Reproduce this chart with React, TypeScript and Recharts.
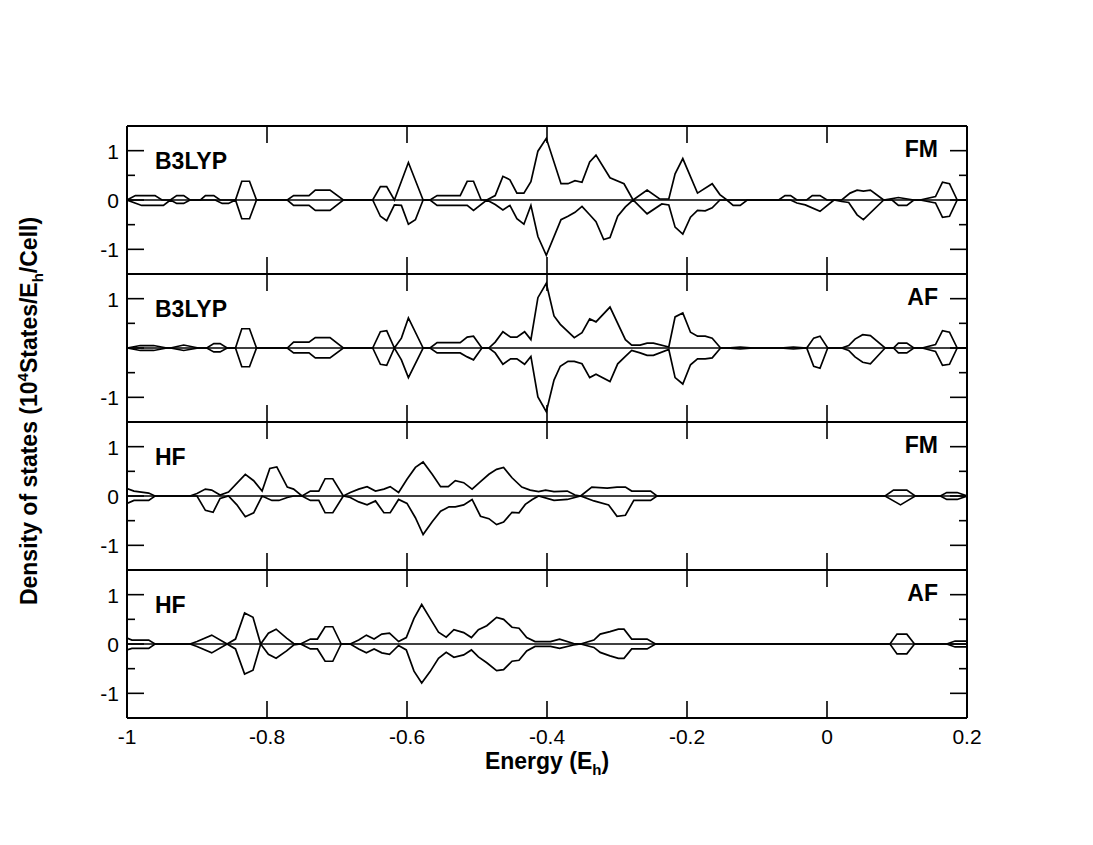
import React from "react";
import { LineChart, Line, XAxis, YAxis, ReferenceLine } from "recharts";

type Pt = [number, number];

// ---------- axes / labels ----------
const ENERGY_TICKS = [-1, -0.8, -0.6, -0.4, -0.2, 0, 0.2];
const ENERGY_TICK_LABELS = ["-1", "-0.8", "-0.6", "-0.4", "-0.2", "0", "0.2"];
const DOS_TICKS = [-1, -0.5, 0, 0.5, 1];
const DOS_MAJOR = [-1, 0, 1];
const PANEL_LABELED_TICKS = [
  [-1, 0, 1],
  [-1, 1],
  [-1, 0, 1],
  [-1, 0, 1],
];
const METHODS = ["B3LYP", "B3LYP", "HF", "HF"];
const ORDERS = ["FM", "AF", "FM", "AF"];

// ---------- data: [energy (Eh), DOS (10^4 states/Eh/cell)] ----------
const b3lypFmUp: Pt[] = [
  [-1.0, 0], [-0.988, 0.09], [-0.96, 0.09], [-0.95, 0], [-0.938, 0], [-0.929, 0.09], [-0.919, 0.09], [-0.91, 0],
  [-0.895, 0], [-0.888, 0.09], [-0.876, 0.09], [-0.867, 0], [-0.845, 0], [-0.836, 0.38], [-0.825, 0.38], [-0.815, 0],
  [-0.771, 0], [-0.762, 0.09], [-0.74, 0.09], [-0.731, 0.2], [-0.71, 0.2], [-0.691, 0], [-0.649, 0], [-0.638, 0.27],
  [-0.629, 0.27], [-0.618, 0], [-0.598, 0.76], [-0.577, 0], [-0.567, 0], [-0.557, 0.09], [-0.524, 0.09], [-0.514, 0.38],
  [-0.505, 0.38], [-0.494, 0], [-0.486, 0], [-0.474, 0.09], [-0.463, 0.48], [-0.453, 0.41], [-0.443, 0.14], [-0.433, 0.14],
  [-0.423, 0.37], [-0.413, 0.99], [-0.401, 1.25], [-0.38, 0.33], [-0.37, 0.33], [-0.36, 0.39], [-0.35, 0.36], [-0.339, 0.77],
  [-0.33, 0.91], [-0.31, 0.45], [-0.29, 0.33], [-0.277, 0], [-0.257, 0.2], [-0.239, 0.02], [-0.226, 0.02], [-0.217, 0.53],
  [-0.206, 0.84], [-0.185, 0.14], [-0.164, 0.33], [-0.153, 0.11], [-0.143, 0], [-0.069, 0], [-0.06, 0.09], [-0.052, 0.09],
  [-0.043, 0], [-0.029, 0], [-0.021, 0.09], [-0.01, 0.09], [0.0, 0], [0.021, 0], [0.033, 0.14], [0.043, 0.2],
  [0.052, 0.18], [0.062, 0.2], [0.081, 0], [0.102, 0.05], [0.124, 0], [0.133, 0], [0.155, 0.07], [0.165, 0.36],
  [0.175, 0.33], [0.186, 0], [0.2, 0],
];
const b3lypFmDown: Pt[] = [
  [-1.0, 0], [-0.979, -0.11], [-0.948, -0.11], [-0.938, 0], [-0.929, -0.07], [-0.919, -0.07], [-0.91, 0], [-0.874, 0],
  [-0.864, -0.07], [-0.855, -0.07], [-0.845, 0], [-0.836, -0.38], [-0.825, -0.38], [-0.815, 0], [-0.771, 0], [-0.762, -0.11],
  [-0.74, -0.11], [-0.731, -0.21], [-0.71, -0.21], [-0.691, 0], [-0.649, 0], [-0.638, -0.33], [-0.629, -0.42], [-0.618, -0.1],
  [-0.608, -0.11], [-0.598, -0.49], [-0.588, -0.4], [-0.577, 0], [-0.567, 0], [-0.557, -0.11], [-0.514, -0.11], [-0.505, -0.21],
  [-0.486, 0], [-0.474, -0.09], [-0.463, -0.2], [-0.453, -0.11], [-0.443, -0.38], [-0.433, -0.49], [-0.423, -0.11], [-0.413, -0.74],
  [-0.401, -1.12], [-0.38, -0.4], [-0.37, -0.33], [-0.36, -0.25], [-0.35, -0.13], [-0.339, -0.3], [-0.33, -0.44], [-0.319, -0.8],
  [-0.31, -0.76], [-0.299, -0.33], [-0.288, -0.14], [-0.277, 0], [-0.257, -0.28], [-0.236, -0.08], [-0.226, -0.1], [-0.217, -0.55],
  [-0.206, -0.69], [-0.195, -0.35], [-0.185, -0.21], [-0.174, -0.22], [-0.164, -0.16], [-0.153, 0], [-0.143, 0], [-0.134, -0.11],
  [-0.124, -0.11], [-0.114, 0], [-0.052, 0], [-0.043, -0.06], [-0.031, -0.1], [-0.01, -0.23], [0.01, 0], [0.021, -0.03],
  [0.031, -0.05], [0.043, -0.3], [0.052, -0.4], [0.081, 0], [0.093, 0], [0.102, -0.11], [0.114, -0.11], [0.124, 0],
  [0.133, 0], [0.155, -0.06], [0.165, -0.35], [0.175, -0.33], [0.186, 0], [0.2, 0],
];
const b3lypAfUp: Pt[] = [
  [-1.0, 0], [-0.981, 0.05], [-0.962, 0.05], [-0.943, 0], [-0.938, 0], [-0.919, 0.06], [-0.898, 0], [-0.886, 0],
  [-0.876, 0.09], [-0.867, 0.09], [-0.857, 0], [-0.845, 0], [-0.836, 0.39], [-0.825, 0.39], [-0.815, 0], [-0.771, 0],
  [-0.762, 0.12], [-0.74, 0.12], [-0.731, 0.21], [-0.71, 0.21], [-0.691, 0], [-0.649, 0], [-0.638, 0.33], [-0.629, 0.35],
  [-0.618, 0], [-0.608, 0.2], [-0.598, 0.61], [-0.577, 0], [-0.567, 0], [-0.557, 0.11], [-0.524, 0.11], [-0.514, 0.22],
  [-0.505, 0.24], [-0.493, 0], [-0.483, 0], [-0.474, 0.12], [-0.463, 0.33], [-0.452, 0.22], [-0.443, 0.22], [-0.432, 0.33],
  [-0.423, 0.17], [-0.413, 1.02], [-0.401, 1.31], [-0.39, 0.65], [-0.381, 0.48], [-0.361, 0.21], [-0.35, 0.31], [-0.339, 0.59],
  [-0.33, 0.53], [-0.31, 0.83], [-0.288, 0.17], [-0.279, 0.06], [-0.267, 0.06], [-0.257, 0.1], [-0.248, 0.1], [-0.226, 0.02],
  [-0.217, 0.63], [-0.206, 0.71], [-0.195, 0.32], [-0.185, 0.24], [-0.174, 0.24], [-0.164, 0.2], [-0.152, 0], [-0.143, 0],
  [-0.124, 0.02], [-0.105, 0], [-0.067, 0], [-0.048, 0.02], [-0.029, 0], [-0.019, 0.2], [-0.01, 0.24], [0.001, 0],
  [0.021, 0], [0.031, 0.05], [0.04, 0.18], [0.051, 0.27], [0.062, 0.25], [0.083, 0], [0.095, 0], [0.102, 0.1],
  [0.114, 0.1], [0.124, 0], [0.136, 0], [0.155, 0.07], [0.165, 0.35], [0.175, 0.32], [0.186, 0], [0.2, 0],
];
const b3lypAfDown: Pt[] = [
  [-1.0, 0], [-0.981, -0.05], [-0.962, -0.05], [-0.943, 0], [-0.938, 0], [-0.919, -0.05], [-0.898, 0], [-0.886, 0],
  [-0.876, -0.08], [-0.867, -0.08], [-0.857, 0], [-0.845, 0], [-0.836, -0.38], [-0.825, -0.38], [-0.815, 0], [-0.771, 0],
  [-0.762, -0.1], [-0.74, -0.1], [-0.731, -0.2], [-0.71, -0.2], [-0.691, 0], [-0.649, 0], [-0.638, -0.33], [-0.629, -0.35],
  [-0.618, 0], [-0.608, -0.24], [-0.598, -0.6], [-0.577, 0], [-0.567, 0], [-0.557, -0.1], [-0.524, -0.1], [-0.514, -0.18],
  [-0.505, -0.24], [-0.493, 0], [-0.483, 0], [-0.474, -0.1], [-0.463, -0.33], [-0.452, -0.22], [-0.443, -0.22], [-0.432, -0.33],
  [-0.423, -0.17], [-0.413, -0.99], [-0.401, -1.29], [-0.39, -0.65], [-0.381, -0.37], [-0.37, -0.27], [-0.361, -0.27], [-0.35, -0.32],
  [-0.339, -0.6], [-0.33, -0.53], [-0.31, -0.68], [-0.299, -0.32], [-0.288, -0.17], [-0.279, -0.05], [-0.267, -0.1], [-0.257, -0.15],
  [-0.248, -0.15], [-0.226, -0.03], [-0.217, -0.6], [-0.206, -0.73], [-0.195, -0.34], [-0.185, -0.22], [-0.174, -0.22], [-0.164, -0.2],
  [-0.152, 0], [-0.143, 0], [-0.124, -0.02], [-0.105, 0], [-0.067, 0], [-0.048, -0.02], [-0.029, 0], [-0.019, -0.37],
  [-0.01, -0.41], [0.001, 0], [0.021, 0], [0.031, -0.05], [0.04, -0.18], [0.051, -0.29], [0.062, -0.32], [0.083, 0],
  [0.095, 0], [0.102, -0.1], [0.114, -0.1], [0.124, 0], [0.136, 0], [0.155, -0.07], [0.165, -0.35], [0.175, -0.33],
  [0.186, 0], [0.2, 0],
];
const hfFmUp: Pt[] = [
  [-1.0, 0.15], [-0.99, 0.1], [-0.969, 0.06], [-0.96, 0], [-0.91, 0], [-0.9, 0.05], [-0.888, 0.14], [-0.879, 0.12],
  [-0.867, 0.02], [-0.855, 0.08], [-0.831, 0.44], [-0.819, 0.31], [-0.807, 0.1], [-0.796, 0.56], [-0.786, 0.59], [-0.771, 0.18],
  [-0.762, 0.14], [-0.75, 0], [-0.738, 0.1], [-0.726, 0.1], [-0.717, 0.35], [-0.706, 0.35], [-0.691, 0], [-0.681, 0.07],
  [-0.669, 0.14], [-0.657, 0.19], [-0.645, 0.1], [-0.633, 0.14], [-0.624, 0.19], [-0.612, 0.07], [-0.6, 0.34], [-0.588, 0.58],
  [-0.577, 0.69], [-0.564, 0.44], [-0.552, 0.19], [-0.541, 0.19], [-0.531, 0.31], [-0.519, 0.27], [-0.507, 0.14], [-0.495, 0.29],
  [-0.483, 0.44], [-0.472, 0.54], [-0.462, 0.58], [-0.45, 0.37], [-0.436, 0.18], [-0.424, 0.12], [-0.412, 0.09], [-0.402, 0.12],
  [-0.39, 0.09], [-0.371, 0.1], [-0.36, 0.02], [-0.352, 0], [-0.336, 0.18], [-0.314, 0.16], [-0.3, 0.18], [-0.288, 0.18],
  [-0.279, 0.1], [-0.252, 0.1], [-0.243, 0], [0.083, 0], [0.095, 0.12], [0.114, 0.12], [0.126, 0], [0.162, 0],
  [0.171, 0.07], [0.186, 0.07], [0.2, 0],
];
const hfFmDown: Pt[] = [
  [-1.0, -0.15], [-0.99, -0.09], [-0.969, -0.09], [-0.96, 0], [-0.9, 0], [-0.888, -0.29], [-0.877, -0.33], [-0.867, -0.05],
  [-0.855, 0], [-0.843, -0.18], [-0.831, -0.42], [-0.819, -0.34], [-0.807, 0], [-0.793, -0.09], [-0.783, -0.09], [-0.771, -0.03],
  [-0.762, 0], [-0.75, 0], [-0.738, -0.09], [-0.726, -0.09], [-0.717, -0.34], [-0.706, -0.34], [-0.691, 0], [-0.681, -0.03],
  [-0.669, -0.12], [-0.657, -0.18], [-0.645, -0.1], [-0.633, -0.34], [-0.624, -0.34], [-0.612, -0.07], [-0.6, -0.15], [-0.588, -0.44],
  [-0.577, -0.78], [-0.564, -0.52], [-0.552, -0.31], [-0.54, -0.22], [-0.531, -0.22], [-0.519, -0.18], [-0.507, -0.07], [-0.495, -0.41],
  [-0.483, -0.46], [-0.472, -0.58], [-0.462, -0.53], [-0.45, -0.33], [-0.44, -0.34], [-0.431, -0.17], [-0.421, -0.07], [-0.412, 0],
  [-0.39, -0.09], [-0.371, -0.07], [-0.352, 0], [-0.333, -0.1], [-0.312, -0.18], [-0.3, -0.41], [-0.288, -0.39], [-0.276, -0.09],
  [-0.252, -0.09], [-0.243, 0], [0.083, 0], [0.105, -0.18], [0.126, 0], [0.162, 0], [0.171, -0.07], [0.186, -0.07],
  [0.2, 0],
];
const hfAfUp: Pt[] = [
  [-1.0, 0.12], [-0.993, 0.08], [-0.969, 0.08], [-0.96, 0], [-0.91, 0], [-0.9, 0.05], [-0.879, 0.18], [-0.857, 0],
  [-0.845, 0.1], [-0.832, 0.63], [-0.82, 0.54], [-0.809, 0], [-0.798, 0.22], [-0.787, 0.3], [-0.772, 0.12], [-0.762, 0.01],
  [-0.752, 0], [-0.738, 0.1], [-0.728, 0.1], [-0.717, 0.35], [-0.706, 0.35], [-0.694, 0], [-0.681, 0], [-0.669, 0.08],
  [-0.658, 0.18], [-0.647, 0.1], [-0.636, 0.2], [-0.625, 0.22], [-0.612, 0.05], [-0.601, 0.13], [-0.59, 0.52], [-0.579, 0.8],
  [-0.567, 0.52], [-0.555, 0.24], [-0.544, 0.14], [-0.533, 0.29], [-0.519, 0.23], [-0.508, 0.13], [-0.498, 0.29], [-0.486, 0.37],
  [-0.472, 0.54], [-0.462, 0.5], [-0.45, 0.34], [-0.44, 0.32], [-0.429, 0.13], [-0.417, 0.05], [-0.395, 0.05], [-0.382, 0.1],
  [-0.362, 0.01], [-0.352, 0], [-0.333, 0.08], [-0.324, 0.2], [-0.31, 0.25], [-0.298, 0.3], [-0.29, 0.3], [-0.279, 0.1],
  [-0.257, 0.1], [-0.245, 0], [0.09, 0], [0.1, 0.2], [0.114, 0.2], [0.125, 0], [0.171, 0], [0.183, 0.06],
  [0.2, 0.06],
];
const hfAfDown: Pt[] = [
  [-1.0, -0.12], [-0.993, -0.09], [-0.969, -0.09], [-0.96, 0], [-0.91, 0], [-0.9, -0.05], [-0.879, -0.18], [-0.857, 0],
  [-0.845, -0.1], [-0.832, -0.61], [-0.82, -0.53], [-0.809, 0], [-0.798, -0.21], [-0.787, -0.29], [-0.772, -0.14], [-0.762, -0.02],
  [-0.752, 0], [-0.738, -0.1], [-0.728, -0.1], [-0.717, -0.35], [-0.706, -0.35], [-0.694, 0], [-0.681, 0], [-0.669, -0.1],
  [-0.658, -0.18], [-0.647, -0.1], [-0.636, -0.18], [-0.625, -0.21], [-0.612, -0.03], [-0.601, -0.12], [-0.59, -0.55], [-0.579, -0.79],
  [-0.567, -0.56], [-0.555, -0.29], [-0.544, -0.17], [-0.533, -0.27], [-0.519, -0.22], [-0.508, -0.12], [-0.498, -0.26], [-0.486, -0.38],
  [-0.472, -0.54], [-0.462, -0.52], [-0.45, -0.35], [-0.44, -0.33], [-0.429, -0.14], [-0.417, -0.05], [-0.395, -0.05], [-0.382, -0.09],
  [-0.362, -0.02], [-0.352, 0], [-0.333, -0.07], [-0.324, -0.17], [-0.31, -0.24], [-0.298, -0.29], [-0.29, -0.29], [-0.279, -0.1],
  [-0.257, -0.1], [-0.245, 0], [0.09, 0], [0.1, -0.2], [0.114, -0.2], [0.125, 0], [0.171, 0], [0.183, -0.06],
  [0.2, -0.06],
];

const PANEL_SERIES: { up: Pt[]; down: Pt[] }[] = [
  { up: b3lypFmUp, down: b3lypFmDown },
  { up: b3lypAfUp, down: b3lypAfDown },
  { up: hfFmUp, down: hfFmDown },
  { up: hfAfUp, down: hfAfDown },
];

// ---------- layout ----------
const FONT = "'Liberation Sans', Arial, Helvetica, sans-serif";
const TICK_FONT = 21;
const PLOT_W = 840;
const PANEL_H = 148;
const LEFT_W = 80;
const RIGHT_W = 20;
const TOP_H = 20;
const BOT_H = 20;
const LAST_BOT_H = 60;
const PLOT_LEFT = 119; // container coords
const PLOT_TOP = 118; // container coords
const MAJOR_LEN = 17;
const MINOR_LEN = 8;

type Row = { e: number; up?: number; down?: number };
function buildRows(up: Pt[], down: Pt[]): Row[] {
  const m = new Map<number, Row>();
  for (const [e, v] of up) {
    const r = m.get(e) ?? { e };
    r.up = v;
    m.set(e, r);
  }
  for (const [e, v] of down) {
    const r = m.get(e) ?? { e };
    r.down = v;
    m.set(e, r);
  }
  return Array.from(m.values()).sort((a, b) => a.e - b.e);
}

function Panel({ index }: { index: number }) {
  const series = PANEL_SERIES[index];
  const data = buildRows(series.up, series.down);
  const last = index === PANEL_SERIES.length - 1;
  const botH = last ? LAST_BOT_H : BOT_H;
  const labeled = PANEL_LABELED_TICKS[index];

  const leftTick = (props: any) => {
    const { x, y, payload } = props;
    const v = payload.value;
    const len = DOS_MAJOR.includes(v) ? MAJOR_LEN : MINOR_LEN;
    return (
      <g>
        <line x1={x} y1={y} x2={x + len} y2={y} stroke="#000" strokeWidth={1.6} />
        {labeled.includes(v) && (
          <text x={x - 8} y={y + 8} textAnchor="end" fontSize={TICK_FONT} fontFamily={FONT} fill="#000">
            {String(v)}
          </text>
        )}
      </g>
    );
  };
  const rightTick = (props: any) => {
    const { x, y, payload } = props;
    const v = payload.value;
    const len = DOS_MAJOR.includes(v) ? MAJOR_LEN : MINOR_LEN;
    return <line x1={x} y1={y} x2={x - len} y2={y} stroke="#000" strokeWidth={1.6} />;
  };
  const topTick = (props: any) => {
    const { x, y } = props;
    return <line x1={x} y1={y} x2={x} y2={y + MAJOR_LEN} stroke="#000" strokeWidth={1.6} />;
  };
  const bottomTick = (props: any) => {
    const { x, y, payload } = props;
    const i = ENERGY_TICKS.indexOf(payload.value);
    return (
      <g>
        <line x1={x} y1={y} x2={x} y2={y - MAJOR_LEN} stroke="#000" strokeWidth={1.6} />
        {last && (
          <text x={x} y={y + 26} textAnchor="middle" fontSize={TICK_FONT} fontFamily={FONT} fill="#000">
            {ENERGY_TICK_LABELS[i]}
          </text>
        )}
      </g>
    );
  };

  const axisLine = { stroke: "#000", strokeWidth: 2 };

  return (
    <div
      style={{
        position: "absolute",
        left: PLOT_LEFT - LEFT_W,
        top: PLOT_TOP + index * PANEL_H - TOP_H,
      }}
    >
      <LineChart
        width={LEFT_W + PLOT_W + RIGHT_W}
        height={TOP_H + PANEL_H + botH}
        data={data}
        margin={{ top: 0, right: 0, bottom: 0, left: 0 }}
      >
        <XAxis
          xAxisId="b"
          dataKey="e"
          type="number"
          domain={[-1, 0.2]}
          allowDataOverflow
          ticks={ENERGY_TICKS}
          interval={0}
          orientation="bottom"
          height={botH}
          tickSize={0}
          tickMargin={0}
          tickLine={false}
          axisLine={axisLine}
          tick={bottomTick}
        />
        <XAxis
          xAxisId="t"
          dataKey="e"
          type="number"
          domain={[-1, 0.2]}
          allowDataOverflow
          ticks={ENERGY_TICKS}
          interval={0}
          orientation="top"
          height={TOP_H}
          tickSize={0}
          tickMargin={0}
          tickLine={false}
          axisLine={axisLine}
          tick={topTick}
        />
        <YAxis
          yAxisId="l"
          type="number"
          domain={[-1.5, 1.5]}
          allowDataOverflow
          ticks={DOS_TICKS}
          interval={0}
          orientation="left"
          width={LEFT_W}
          tickSize={0}
          tickMargin={0}
          tickLine={false}
          axisLine={axisLine}
          tick={leftTick}
        />
        <YAxis
          yAxisId="r"
          type="number"
          domain={[-1.5, 1.5]}
          allowDataOverflow
          ticks={DOS_TICKS}
          interval={0}
          orientation="right"
          width={RIGHT_W}
          tickSize={0}
          tickMargin={0}
          tickLine={false}
          axisLine={axisLine}
          tick={rightTick}
        />
        <ReferenceLine xAxisId="b" yAxisId="l" y={0} stroke="#000" strokeWidth={1.4} />
        <Line
          xAxisId="b"
          yAxisId="l"
          dataKey="up"
          type="linear"
          stroke="#000"
          strokeWidth={1.7}
          dot={false}
          activeDot={false}
          connectNulls
          isAnimationActive={false}
        />
        <Line
          xAxisId="t"
          yAxisId="r"
          dataKey="down"
          type="linear"
          stroke="#000"
          strokeWidth={1.7}
          dot={false}
          activeDot={false}
          connectNulls
          isAnimationActive={false}
        />
      </LineChart>
    </div>
  );
}

export default function App() {
  const W = 1077;
  const H = 829;
  return (
    <div style={{ position: "relative", width: W, height: H, background: "#fff", fontFamily: FONT }}>
      {PANEL_SERIES.map((_, i) => (
        <Panel key={i} index={i} />
      ))}
      <svg
        width={W}
        height={H}
        style={{ position: "absolute", left: 0, top: 0, pointerEvents: "none" }}
        fontFamily={FONT}
      >
        {METHODS.map((m, i) => (
          <text key={"m" + i} x={147} y={PLOT_TOP + i * PANEL_H + 42.5} fontSize={23} fontWeight="bold" fill="#000">
            {m}
          </text>
        ))}
        {ORDERS.map((o, i) => (
          <text
            key={"o" + i}
            x={930}
            y={PLOT_TOP + i * PANEL_H + 31}
            fontSize={23}
            fontWeight="bold"
            textAnchor="end"
            fill="#000"
          >
            {o}
          </text>
        ))}
        <text x={539} y={761} textAnchor="middle" fontSize={23} fontWeight="bold" fill="#000">
          Energy (E
          <tspan dy={6} fontSize={15}>h</tspan>
          <tspan dy={-6}>)</tspan>
        </text>
        <text
          x={29}
          y={403}
          transform="rotate(-90 29 403)"
          textAnchor="middle"
          fontSize={23}
          fontWeight="bold"
          fill="#000"
        >
          Density of states (10
          <tspan dy={-9} fontSize={15}>4</tspan>
          <tspan dy={9}>States/E</tspan>
          <tspan dy={6} fontSize={15}>h</tspan>
          <tspan dy={-6}>/Cell)</tspan>
        </text>
      </svg>
    </div>
  );
}
